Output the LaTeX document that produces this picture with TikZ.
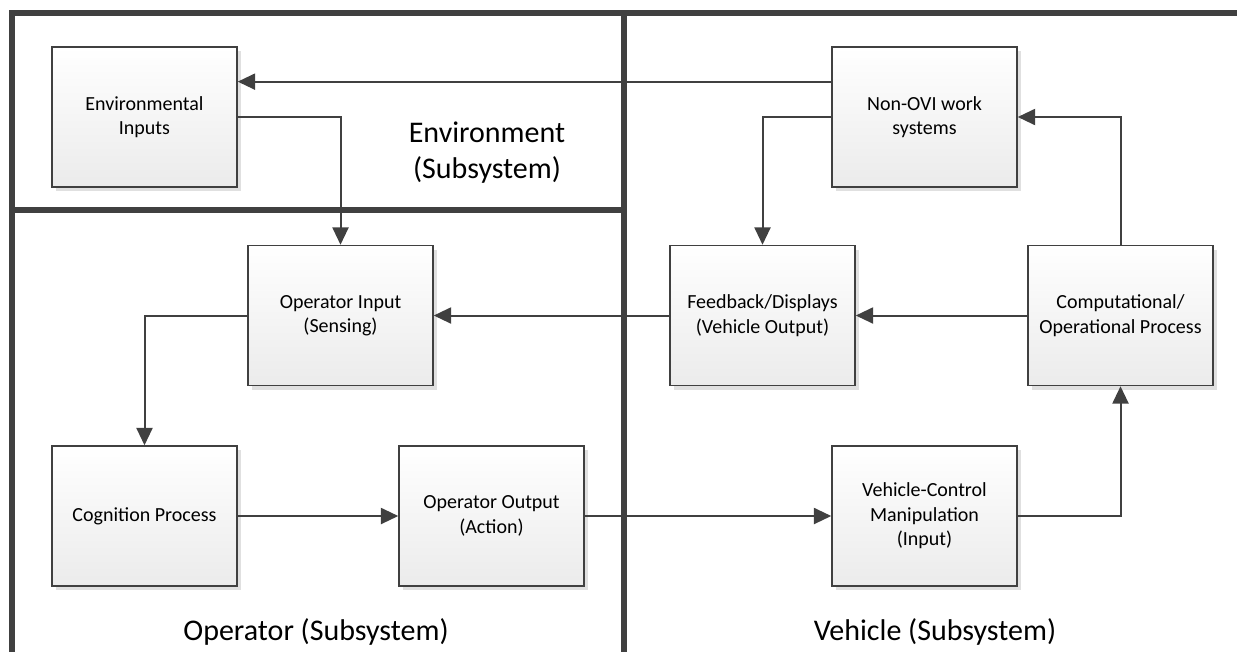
\documentclass[tikz,border=0pt]{standalone}
\usepackage{fontspec}
\setmainfont{Carlito}
\usetikzlibrary{arrows.meta,shadows,calc}
\definecolor{ink}{HTML}{404040}
\definecolor{boxbot}{HTML}{EBEBEB}
\begin{document}
\begin{tikzpicture}[x=0.75pt,y=-0.75pt,
  blk/.style={draw=ink, line width=1.1pt, minimum width=138.75pt, minimum height=105pt,
    top color=white, bottom color=boxbot, align=center, inner sep=0pt,
    font=\fontsize{15}{18.3}\selectfont,
    drop shadow={shadow xshift=3pt, shadow yshift=-3pt, fill=black, opacity=0.12}},
  link/.style={draw=ink, line width=1.5pt, -{Triangle[length=13pt,width=12pt]}},
  wall/.style={draw=ink, line width=4.5pt, line join=miter},
  area/.style={font=\fontsize{22.5}{27}\selectfont, align=center, inner sep=0pt}]
\useasboundingbox (0,0) rectangle (1237,651);

% frame corners and dividers
\coordinate (fbl) at (12,660);
\coordinate (ftl) at (12,13);
\coordinate (ftr) at (1245,13);
\coordinate (mtop) at (624,13);
\coordinate (mbot) at (624,660);
\coordinate (sepl) at (12,210);
\coordinate (sepr) at (624,210);

% blocks
\node[blk] (env)   at (144.5,117)   {Environmental\\Inputs};
\node[blk] (nonovi) at (924.5,117)  {Non-OVI work\\systems};
\node[blk] (opin)  at (340.5,315.5) {Operator Input\\(Sensing)};
\node[blk] (fb)    at (762.5,315.5) {Feedback/Displays\\(Vehicle Output)};
\node[blk] (comp)  at (1120.5,315.5) {Computational/\\Operational Process};
\node[blk] (cog)   at (144.5,516)   {Cognition Process};
\node[blk] (opout) at (491.5,516)   {Operator Output\\(Action)};
\node[blk] (vcm)   at (924.5,516)   {Vehicle-Control\\Manipulation\\(Input)};

% connectors
\coordinate (nonoviout) at ($(nonovi.north west)!0.25!(nonovi.south west)$);
\draw[link] (nonoviout) -- (env.east |- nonoviout);
\draw[link] (env.east) -| (opin.north);
\draw[link] (nonovi.west) -| (fb.north);
\draw[link] (comp.north) |- (nonovi.east);
\draw[link] (fb.west) -- (opin.east);
\draw[link] (comp.west) -- (fb.east);
\draw[link] (opin.west) -| (cog.north);
\draw[link] (cog.east) -- (opout.west);
\draw[link] (opout.east) -- (vcm.west);
\draw[link] (vcm.east) -| (comp.south);

% subsystem walls
\draw[wall] (fbl) -- (ftl) -- (ftr);
\draw[wall] (mtop) -- (mbot);
\draw[wall] (sepl) -- (sepr);

% subsystem labels
\node[area] (lenv) at (487,153) {Environment\\(Subsystem)};
\node[area] (lop)  at (316,632) {Operator (Subsystem)};
\node[area] (lveh) at (935,632) {Vehicle (Subsystem)};
\end{tikzpicture}
\end{document}
